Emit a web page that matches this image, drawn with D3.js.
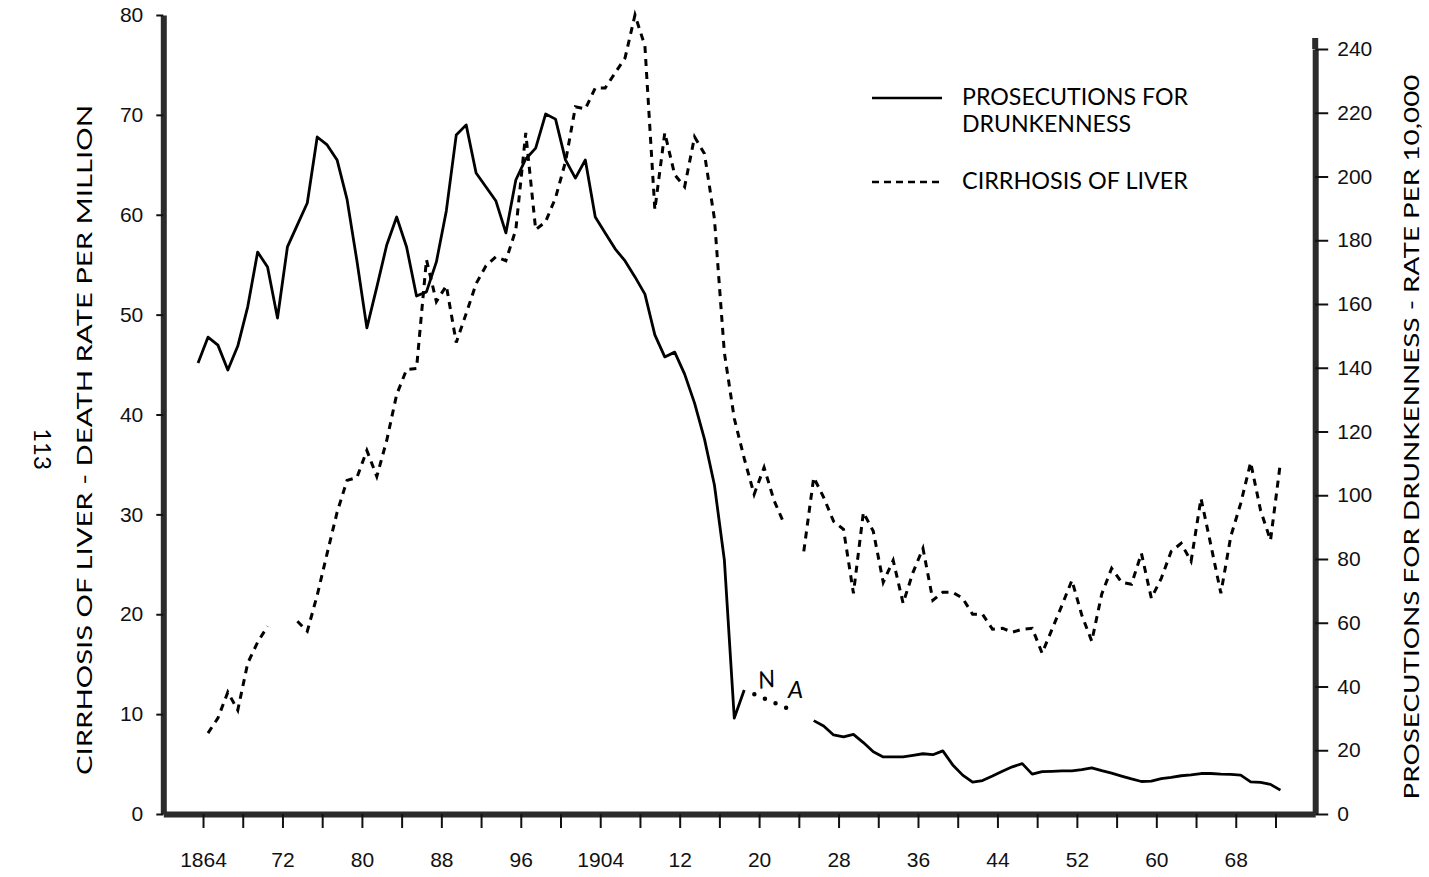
<!DOCTYPE html>
<html>
<head>
<meta charset="utf-8">
<script src="https://cdn.jsdelivr.net/npm/d3@7"></script>
<style>
  body { margin: 0; background: #fff; }
  svg { display: block; font-family: Lato, "DejaVu Sans", sans-serif; }
</style>
</head>
<body>
<div id="chart"></div>
<script>
// prosecutions for drunkenness, rate per 10,000 (right axis), one value per year from 1863
const drunkFirstYear = 1863
const drunkValues = [
  141.5, 149.6, 147.1, 139.3, 146.8, 159.1, 176.3, 171.6, 155.6, 177.9,
  184.8, 191.7, 212.4, 209.9, 205.2, 192.9, 173.5, 152.5, 165.3, 178.5,
  187.3, 177.9, 162.5, 163.8, 173.2, 189.2, 213.0, 216.2, 201.1, 196.7,
  192.3, 182.3, 198.9, 205.5, 208.9, 219.6, 218.0, 205.2, 199.5, 205.2,
  187.3, 182.3, 177.3, 173.5, 168.5, 163.1, 150.3, 143.4, 144.9, 138.0,
  128.9, 117.6, 103.2, 79.7, 30.1, 38.9,
  null, null, null, null, null, null,            // 1919-1924 not available
  29.3, 27.6, 24.8, 24.2, 25.0, 22.4, 19.5, 17.9, 17.9, 17.9,
  18.4, 18.9, 18.6, 19.8, 15.4, 12.2, 10.0, 10.5, 11.9, 13.4,
  14.8, 15.8, 12.5, 13.3, 13.4, 13.5, 13.5, 13.9, 14.5, 13.6,
  12.8, 11.9, 11.0, 10.2, 10.3, 11.1, 11.5, 12.0, 12.3, 12.7,
  12.7, 12.5, 12.4, 12.2, 10.1, 9.9, 9.3, 7.5
]
// dotted "N A" estimate across the missing years
const naYears = [1918, 1923]
const naValues = [38.9, 32.3]

// cirrhosis of liver, death rate per million (left axis), one value per year from 1864
const cirrhosisFirstYear = 1864
const cirrhosisValues = [
  8.1, 9.6, 12.2, 10.4, 15.1, 17.2, 18.8, null, null, 19.3,
  18.3, 21.9, 26.1, 30.2, 33.4, 33.7, 36.4, 33.8, 37.4, 42.0,
  44.5, 44.6, 55.5, 51.3, 52.9, 47.2, 50.1, 53.1, 54.9, 55.8,
  55.4, 58.5, 68.2, 58.5, 59.3, 61.7, 65.3, 70.8, 70.6, 72.7,
  72.7, 74.2, 75.7, 80.0, 76.9, 60.5, 68.2, 64.0, 62.8, 67.8,
  66.1, 59.6, 46.2, 39.6, 35.6, 32.0, 34.7, 31.4, 29.1, null,
  26.3, 33.7, 31.7, 29.3, 28.5, 22.1, 30.2, 28.3, 23.2, 25.4,
  21.1, 24.2, 26.6, 21.4, 22.2, 22.2, 21.6, 20.0, 20.0, 18.5,
  18.6, 18.2, 18.5, 18.6, 16.1, 18.5, 20.9, 23.4, 19.9, 17.3,
  22.0, 24.6, 23.2, 23.0, 26.1, 21.6, 23.6, 26.3, 27.1, 25.3,
  31.6, 26.9, 22.1, 27.8, 31.1, 35.2, 30.4, 27.4, 35.2
]

const leftTicks = [0, 10, 20, 30, 40, 50, 60, 70, 80]
const rightTicks = [0, 20, 40, 60, 80, 100, 120, 140, 160, 180, 200, 220, 240]
const xTickYears = d3.range(1864, 1973, 4)
const xLabelYears = [1864, 1872, 1880, 1888, 1896, 1904, 1912, 1920, 1928, 1936, 1944, 1952, 1960, 1968]
const xLabels = ["1864", "72", "80", "88", "96", "1904", "12", "20", "28", "36", "44", "52", "60", "68"]

const width = 1429, height = 877

const svg = d3.select("#chart")
  .append("svg")
    .attr("width", width)
    .attr("height", height)

const x = d3.scaleLinear().domain([1860, 1976]).range([163.3, 1315.2])
const yLeft = d3.scaleLinear().domain([0, 80]).range([814, 15])
const yRight = d3.scaleLinear().domain([0, 240]).range([814, 49])

const drunk = drunkValues.map((v, i) => ({ year: drunkFirstYear + i, value: v }))
const cirrhosis = cirrhosisValues.map((v, i) => ({ year: cirrhosisFirstYear + i, value: v }))
const na = naYears.map((yr, i) => ({ year: yr, value: naValues[i] }))

// points sit at mid-year
const px = d => x(d.year + 0.5)

// axes
const styleAxis = g => {
  g.select(".domain").attr("stroke", "#2b2b2b").attr("stroke-width", 6)
  g.selectAll(".tick line").attr("stroke", "#111").attr("stroke-width", 2)
  g.selectAll(".tick text").attr("fill", "#111").attr("font-size", 21)
}

svg.append("g")
  .attr("transform", `translate(${x(1860)},0)`)
  .call(d3.axisLeft(yLeft).tickValues(leftTicks).tickSize(7).tickSizeOuter(0).tickPadding(13))
  .call(styleAxis)

const rightAxis = svg.append("g")
  .attr("transform", `translate(${x(1976)},0)`)
  .call(d3.axisRight(yRight).tickValues(rightTicks).tickSize(13).tickSizeOuter(0).tickPadding(9))
  .call(styleAxis)
// the printed band runs a little above the top tick
rightAxis.append("line")
  .attr("y1", 38).attr("y2", yRight(240))
  .attr("stroke", "#2b2b2b").attr("stroke-width", 6)

svg.append("g")
  .attr("transform", `translate(0,${yLeft(0)})`)
  .call(d3.axisBottom(x).tickValues(xTickYears).tickSize(14).tickSizeOuter(0).tickPadding(24)
    .tickFormat(d => {
      const k = xLabelYears.indexOf(d)
      return k < 0 ? "" : xLabels[k]
    }))
  .call(styleAxis)

// lines
const drunkLine = d3.line()
  .defined(d => d.value !== null)
  .x(px)
  .y(d => yRight(d.value))

const cirrhosisLine = d3.line()
  .defined(d => d.value !== null)
  .x(px)
  .y(d => yLeft(d.value))

svg.append("path")
  .datum(cirrhosis)
  .attr("d", cirrhosisLine)
  .attr("fill", "none")
  .attr("stroke", "#000")
  .attr("stroke-width", 3)
  .attr("stroke-dasharray", "7,6")

svg.append("path")
  .datum(drunk)
  .attr("d", drunkLine)
  .attr("fill", "none")
  .attr("stroke", "#000")
  .attr("stroke-width", 2.8)
  .attr("stroke-linejoin", "round")

svg.append("path")
  .datum(na)
  .attr("d", drunkLine)
  .attr("fill", "none")
  .attr("stroke", "#000")
  .attr("stroke-width", 4.5)
  .attr("stroke-linecap", "round")
  .attr("stroke-dasharray", "0,11.5")
  .attr("stroke-dashoffset", -11)

svg.append("text")
  .attr("x", 758).attr("y", 688)
  .attr("font-size", 24).attr("font-style", "italic").attr("fill", "#000")
  .attr("transform", "rotate(-8,766,680)")
  .text("N")
svg.append("text")
  .attr("x", 788).attr("y", 698)
  .attr("font-size", 24).attr("font-style", "italic").attr("fill", "#000")
  .text("A")

// axis titles
svg.append("text")
  .attr("transform", "translate(92,440) rotate(-90)")
  .attr("text-anchor", "middle")
  .attr("font-size", 21)
  .attr("textLength", 670)
  .attr("lengthAdjust", "spacingAndGlyphs")
  .text("CIRRHOSIS OF LIVER   -   DEATH RATE PER MILLION")

svg.append("text")
  .attr("transform", "translate(1419,437) rotate(-90)")
  .attr("text-anchor", "middle")
  .attr("font-size", 21)
  .attr("textLength", 725)
  .attr("lengthAdjust", "spacingAndGlyphs")
  .text("PROSECUTIONS FOR DRUNKENNESS   -   RATE PER 10,000")

svg.append("text")
  .attr("transform", "translate(34,449) rotate(90)")
  .attr("text-anchor", "middle")
  .attr("font-size", 24)
  .text("113")

// legend
const legend = svg.append("g").attr("id", "legend")
const keys = [
  { lines: ["PROSECUTIONS FOR", "DRUNKENNESS"], dash: null, y: 98, widths: [226, 169] },
  { lines: ["CIRRHOSIS OF LIVER"], dash: "7,5", y: 182, widths: [226] }
]
keys.forEach(k => {
  legend.append("line")
    .attr("x1", 872).attr("x2", 942)
    .attr("y1", k.y).attr("y2", k.y)
    .attr("stroke", "#000")
    .attr("stroke-width", 2.5)
    .attr("stroke-dasharray", k.dash)
  k.lines.forEach((t, i) => {
    legend.append("text")
      .attr("x", 962)
      .attr("y", k.y + 7 + i * 27)
      .attr("font-size", 23)
      .attr("textLength", k.widths[i])
      .attr("lengthAdjust", "spacingAndGlyphs")
      .text(t)
  })
})
</script>
</body>
</html>
